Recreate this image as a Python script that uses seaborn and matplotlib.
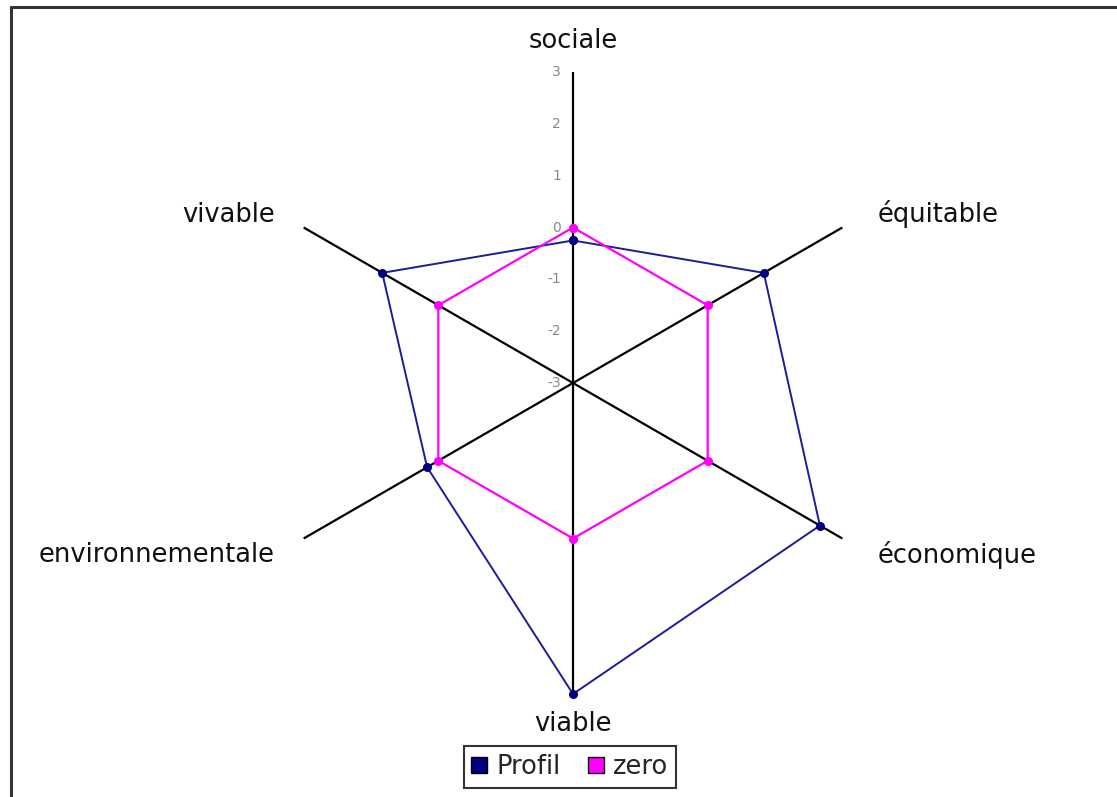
import numpy as np
import pandas as pd
import matplotlib
matplotlib.use("Agg")
import matplotlib.pyplot as plt
from matplotlib.lines import Line2D
import seaborn as sns

# ---- data ----
categories = ["sociale", "équitable", "économique", "viable", "environnementale", "vivable"]
profil = [-0.25, 1.25, 2.5, 3.0, 0.25, 1.25]
zero = [0, 0, 0, 0, 0, 0]
r_ticks = [-3, -2, -1, 0, 1, 2, 3]
series_names = ["Profil", "zero"]

sns.set_style("white")
plt.rcParams["font.family"] = ["DejaVu Sans"]

W, H = 1117, 797
fig = plt.figure(figsize=(W / 100, H / 100), dpi=100)
fig.patch.set_facecolor("white")

cx, cy, R = 573, 383, 311
ax = fig.add_axes([(cx - R) / W, (H - cy - R) / H, 2 * R / W, 2 * R / H], projection="polar")
ax.set_theta_zero_location("N")
ax.set_theta_direction(-1)
ax.set_facecolor("none")

n = len(categories)
angles = np.arange(n) * 2 * np.pi / n

ax.set_ylim(-3, 3)
ax.set_yticks([])
ax.set_xticks(angles)
ax.set_xticklabels([])
ax.tick_params(axis="x", length=0)
ax.xaxis.grid(True, color="black", linewidth=1.6)
ax.yaxis.grid(False)
ax.spines["polar"].set_visible(False)

theta_c = np.append(angles, angles[0])
colors = {"Profil": "#000080", "zero": "#ff00ff"}
line_colors = {"Profil": "#1c1c96", "zero": "#ff00ff"}
lw = {"Profil": 1.4, "zero": 1.6}
for name, vals in zip(series_names, [profil, zero]):
    df = pd.DataFrame({"theta": theta_c, "r": np.append(vals, vals[0])})
    sns.lineplot(data=df, x="theta", y="r", ax=ax, sort=False, estimator=None,
                 color=line_colors[name], linewidth=lw[name], marker="o", markersize=6.5,
                 markerfacecolor=colors[name], markeredgewidth=0, clip_on=False,
                 zorder=3 if name == "Profil" else 4)
ax.set_xlabel("")
ax.set_ylabel("")
if ax.get_legend():
    ax.get_legend().remove()

# radial tick labels along the top axis
for v in r_ticks:
    ax.annotate(str(v), xy=(0, v), xytext=(-12, 0), textcoords="offset pixels",
                ha="right", va="center", fontsize=10, color="#888888")

# category labels
offsets = {
    "sociale": ((0, 31), "center", "center"),
    "équitable": ((35, 13), "left", "center"),
    "économique": ((35, -17), "left", "center"),
    "viable": ((0, -30), "center", "center"),
    "environnementale": ((-29, -17), "right", "center"),
    "vivable": ((-29, 13), "right", "center"),
}
for ang, cat in zip(angles, categories):
    off, ha, va = offsets[cat]
    ax.annotate(cat, xy=(ang, 3), xytext=off, textcoords="offset pixels",
                ha=ha, va=va, fontsize=18.5, color="#111111", annotation_clip=False)

# legend
handles = [Line2D([], [], linestyle="none", marker="s", markersize=11,
                  markerfacecolor=colors[s], markeredgecolor="black", markeredgewidth=1.0,
                  label=s) for s in series_names]
leg = fig.legend(handles=handles, loc="center", bbox_to_anchor=(570 / W, 1 - 767 / H),
                 ncol=2, frameon=True, fancybox=False, fontsize=18.5,
                 handlelength=0.6, handletextpad=0.35, columnspacing=1.1,
                 borderpad=0.3, borderaxespad=0)
leg.get_frame().set_edgecolor("black")
leg.get_frame().set_linewidth(1.5)

# outer border (top and left)
fig.add_artist(Line2D([11 / W, 1], [1 - 7 / H, 1 - 7 / H], transform=fig.transFigure,
                      color="#333333", linewidth=2.2))
fig.add_artist(Line2D([11 / W, 11 / W], [0, 1 - 7 / H], transform=fig.transFigure,
                      color="#333333", linewidth=2.2))

fig.savefig("out.png", dpi=100, facecolor="white")
